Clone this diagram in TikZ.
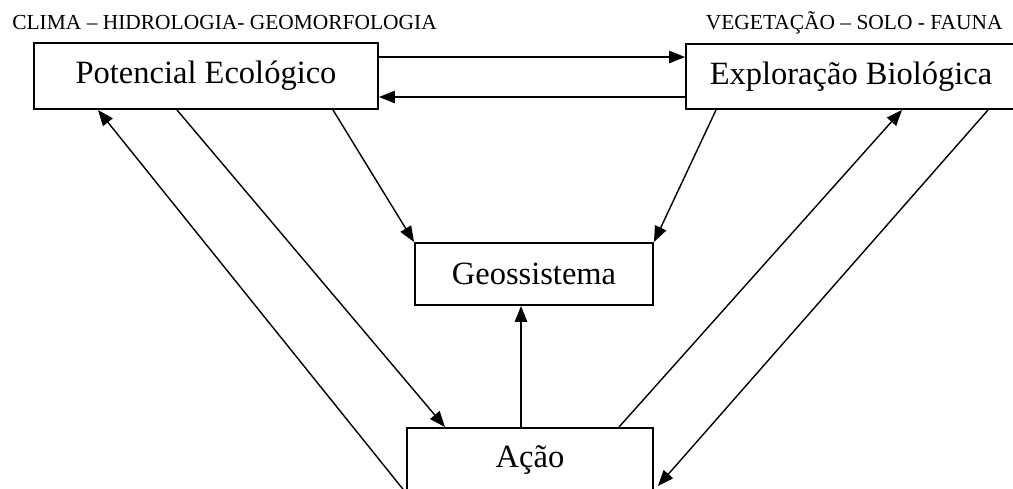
\documentclass[tikz,border=0pt]{standalone}
\usepackage{fontspec}
\setmainfont{Liberation Serif}
\usetikzlibrary{positioning, arrows.meta, calc}

\begin{document}
\begin{tikzpicture}[
    x=0.02cm, y=-0.02cm,
    >={Triangle[length=9pt, width=7pt]},
    block/.style={draw, line width=1.1pt, rectangle, inner sep=0pt, font=\fontsize{18.5}{22}\selectfont},
    heading/.style={font=\fontsize{12.2}{14}\selectfont, inner sep=0pt},
    link/.style={->, line width=0.8pt}
]
    \clip (0,0) rectangle (1013,488);

    % Nodes
    \node[block, minimum width=344*0.02cm, minimum height=66*0.02cm] (pot) at (206,76) {Potencial Ecológico};
    \node[block, minimum width=330*0.02cm, minimum height=65*0.02cm] (exp) at (851,76.5) {Exploração Biológica};
    \node[block, minimum width=238*0.02cm, minimum height=62*0.02cm] (geo) at (534,274) {Geossistema};
    \node[block, minimum width=246*0.02cm, minimum height=64*0.02cm] (acao) at (530,460) {Ação};

    % Labels
    \node[heading, anchor=west] (clima) at (12,23) {CLIMA – HIDROLOGIA- GEOMORFOLOGIA};
    \node[heading, anchor=east] (veg) at (1003,23) {VEGETAÇÃO – SOLO - FAUNA};

    % Connections
    \draw[link] (pot.east |- 0,57) -- (exp.west |- 0,57);
    \draw[link] (exp.west |- 0,97) -- (pot.east |- 0,97);
    \draw[link] (pot.south -| 333,0) -- (geo.north west);
    \draw[link] (exp.south -| 716,0) -- (geo.north east);
    \draw[link] (acao.north -| 521,0) -- (geo.south -| 521,0);

    % Feedback
    \draw[link] (pot.south -| 177,0) -- (acao.north -| 445,0);
    \draw[link] (acao.south west) -- (pot.south -| 98,0);
    \draw[link] (acao.north -| 619,0) -- (exp.south -| 902,0);
    \draw[link] (exp.south -| 988,0) -- ($(acao.south east)+(4,-7)$);

\end{tikzpicture}
\end{document}
